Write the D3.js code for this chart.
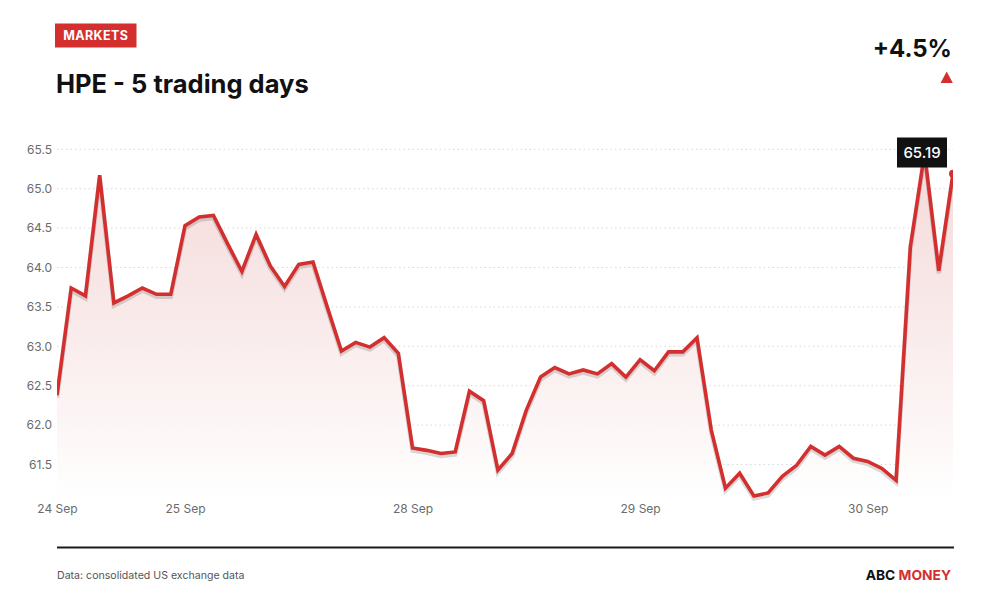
<!DOCTYPE html>
<html>
<head>
<meta charset="utf-8">
<script src="https://cdn.jsdelivr.net/npm/d3@7"></script>
<style>
  html, body { margin: 0; padding: 0; background: #fff; }
  svg { display: block; font-family: Inter, "Noto Sans", sans-serif; }
</style>
</head>
<body>
<svg id="chart" width="1000" height="600"></svg>
<script>
// ---- data ----
const prices = [
  62.38, 63.74, 63.64, 65.17, 63.55, 63.64, 63.74, 63.66, 63.66,
  64.53, 64.64, 64.66, 64.30, 63.95, 64.42, 64.02, 63.76, 64.04, 64.07, 63.50, 62.94, 63.05, 62.99, 63.11, 62.91,
  61.71, 61.68, 61.64, 61.66, 62.43, 62.31, 61.43, 61.64, 62.19, 62.61, 62.73, 62.65, 62.70, 62.65, 62.78, 62.61,
  62.83, 62.69, 62.93, 62.93, 63.11, 61.94, 61.20, 61.39, 61.10, 61.14, 61.35, 61.49, 61.73, 61.62, 61.73, 61.58,
  61.54, 61.45, 61.30, 64.26, 65.45, 63.96, 65.19
];
const dayLabels = ["24 Sep", "25 Sep", "28 Sep", "29 Sep", "30 Sep"];
const dayStartIndex = [0, 9, 25, 41, 57];
const yTicks = [61.5, 62.0, 62.5, 63.0, 63.5, 64.0, 64.5, 65.0, 65.5];
const category = "MARKETS";
const title = "HPE - 5 trading days";
const source = "Data: consolidated US exchange data";
const brandA = "ABC";
const brandB = "MONEY";

// ---- layout ----
const RED = "#d32f2f";
const svg = d3.select("#chart");
const left = 57, right = 953;

const x = d3.scaleLinear().domain([0, prices.length - 1]).range([left, right]);
const y = d3.scaleLinear().domain([61.05, 65.5]).range([500, 149.3]);

const defs = svg.append("defs");
const grad = defs.append("linearGradient").attr("id", "fillGrad")
  .attr("gradientUnits", "userSpaceOnUse")
  .attr("x1", 0).attr("x2", 0).attr("y1", y(65.5)).attr("y2", y(61.05));
grad.append("stop").attr("offset", "0%").attr("stop-color", "#f3d3d3").attr("stop-opacity", 0.85);
grad.append("stop").attr("offset", "100%").attr("stop-color", "#ffffff").attr("stop-opacity", 1);
defs.append("clipPath").attr("id", "plotClip")
  .append("rect").attr("x", left).attr("y", 100).attr("width", right - left).attr("height", 420);

// header
const catG = svg.append("g");
catG.append("rect").attr("x", 55).attr("y", 23.5).attr("width", 81.5).attr("height", 24).attr("fill", RED);
catG.append("text").attr("x", 95.75).attr("y", 40).attr("text-anchor", "middle")
  .attr("fill", "#fff").attr("font-size", 12.5).attr("font-weight", 700).attr("letter-spacing", 0.4)
  .text(category);
svg.append("text").attr("x", 56).attr("y", 93).attr("font-size", 25.5).attr("font-weight", 700)
  .attr("fill", "#111").text(title);

const change = (prices[prices.length - 1] / prices[0] - 1) * 100;
svg.append("text").attr("x", 952).attr("y", 56.5).attr("text-anchor", "end")
  .attr("font-size", 24).attr("font-weight", 700).attr("fill", "#111")
  .text((change >= 0 ? "+" : "") + change.toFixed(1) + "%");
svg.append("path").attr("d", "M946.7,71.5 L952.8,83 L940.6,83 Z").attr("fill", RED);

// grid + y axis
const yAxis = d3.axisLeft(y).tickValues(yTicks).tickFormat(d3.format(".1f")).tickSize(0).tickPadding(0);
const yG = svg.append("g").attr("transform", `translate(${left - 5},0)`).call(yAxis);
yG.select(".domain").remove();
yG.selectAll("text").attr("font-size", 12).attr("fill", "#6b6b6b").attr("font-family", "Inter, sans-serif");

svg.append("g").selectAll("line").data(yTicks).join("line")
  .attr("x1", left).attr("x2", right)
  .attr("y1", d => y(d)).attr("y2", d => y(d))
  .attr("stroke", "#d9d9d9").attr("stroke-width", 1).attr("stroke-dasharray", "1.5,3");

// x axis labels
const xAxis = d3.axisBottom(x).tickValues(dayStartIndex)
  .tickFormat((d, i) => dayLabels[i]).tickSize(0).tickPadding(0);
const xG = svg.append("g").attr("transform", "translate(0,513)").call(xAxis);
xG.select(".domain").remove();
xG.selectAll("text").attr("font-size", 12).attr("fill", "#6b6b6b").attr("font-family", "Inter, sans-serif")
  .attr("dy", 0);

// area + line
const plot = svg.append("g").attr("clip-path", "url(#plotClip)");
const area = d3.area().x((d, i) => x(i)).y0(y(61.05)).y1(d => y(d));
const line = d3.line().x((d, i) => x(i)).y(d => y(d));

plot.append("path").datum(prices).attr("d", area).attr("fill", "url(#fillGrad)");
plot.append("path").datum(prices).attr("d", line)
  .attr("transform", "translate(0,2.5)")
  .attr("fill", "none").attr("stroke", "#000").attr("stroke-opacity", 0.14)
  .attr("stroke-width", 4.5).attr("stroke-linejoin", "miter");
plot.append("path").datum(prices).attr("d", line)
  .attr("fill", "none").attr("stroke", RED).attr("stroke-width", 3.6).attr("stroke-linejoin", "miter");

const lastI = prices.length - 1;
plot.append("circle").attr("cx", x(lastI)).attr("cy", y(prices[lastI])).attr("r", 4).attr("fill", RED);

// tooltip with last value
const tipW = 50, tipH = 30;
const tipCx = Math.min(x(lastI), right - 6 - tipW / 2);
const tipG = svg.append("g");
tipG.append("rect").attr("x", tipCx - tipW / 2).attr("y", 137.5).attr("width", tipW).attr("height", tipH)
  .attr("fill", "#111");
tipG.append("text").attr("x", tipCx).attr("y", 158).attr("text-anchor", "middle")
  .attr("fill", "#fff").attr("font-size", 15).attr("font-weight", 500)
  .text(prices[lastI].toFixed(2));

// footer
svg.append("line").attr("x1", 57).attr("x2", 954).attr("y1", 547.5).attr("y2", 547.5)
  .attr("stroke", "#1a1a1a").attr("stroke-width", 2);
svg.append("text").attr("x", 57).attr("y", 579).attr("font-size", 10.6).attr("fill", "#555").text(source);
const brand = svg.append("text").attr("x", 951).attr("y", 580).attr("text-anchor", "end")
  .attr("font-size", 13.8).attr("font-weight", 700);
brand.append("tspan").attr("fill", "#111").text(brandA + " ");
brand.append("tspan").attr("fill", RED).text(brandB);
</script>
</body>
</html>
